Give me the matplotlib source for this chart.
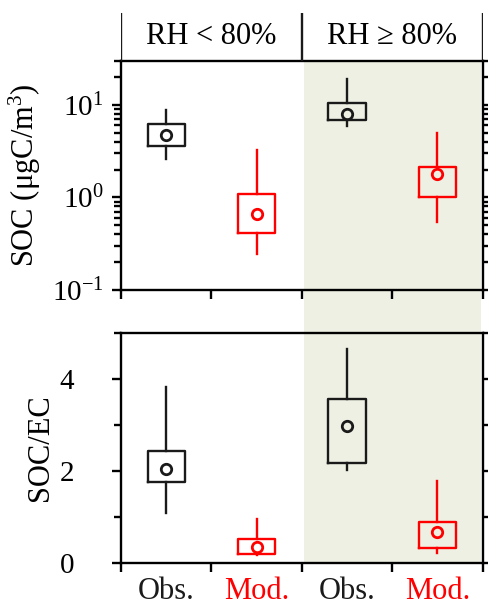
import matplotlib
matplotlib.use("Agg")
import matplotlib.pyplot as plt
import matplotlib.transforms as mtransforms
from matplotlib.patches import Rectangle
from matplotlib.ticker import LogLocator, NullFormatter

plt.rcParams["font.family"] = ["Liberation Serif", "DejaVu Serif"]
plt.rcParams["mathtext.fontset"] = "custom"
plt.rcParams["mathtext.rm"] = "Liberation Serif"
plt.rcParams["mathtext.it"] = "Liberation Serif:italic"

# groups: Obs. / Mod. for RH < 80% and RH >= 80%
groups = ["RH < 80%", "RH \u2265 80%"]
series = ["Obs.", "Mod.", "Obs.", "Mod."]
positions = [0.5, 1.5, 2.5, 3.5]

# SOC (ugC/m3), log axis
soc_whislo = [2.6, 0.245, 5.9, 0.55]
soc_q1 = [3.6, 0.41, 6.9, 1.0]
soc_mean = [4.75, 0.66, 8.0, 1.81]
soc_q3 = [6.25, 1.08, 10.5, 2.15]
soc_whishi = [8.8, 3.3, 19.0, 5.0]

# SOC/EC ratio
ratio_whislo = [1.09, 0.17, 2.03, 0.22]
ratio_q1 = [1.77, 0.20, 2.18, 0.32]
ratio_mean = [2.04, 0.35, 2.99, 0.68]
ratio_q3 = [2.43, 0.53, 3.56, 0.89]
ratio_whishi = [3.82, 0.96, 4.65, 1.79]

BLACK = "#1a1a1a"
RED = "#ff0000"
SHADE = "#edf0e2"
colors = [BLACK, RED, BLACK, RED]
LW = 1.7


def draw_boxes(ax, whislo, q1, mean, q3, whishi):
    for i, pos in enumerate(positions):
        st = dict(whislo=whislo[i], q1=q1[i], med=mean[i], q3=q3[i],
                  whishi=whishi[i], mean=mean[i], fliers=[])
        c = colors[i]
        ax.bxp([st], positions=[pos], widths=0.41, showcaps=False,
               showfliers=False, showmeans=True, patch_artist=False,
               boxprops=dict(color=c, linewidth=LW),
               whiskerprops=dict(color=c, linewidth=LW),
               medianprops=dict(linestyle="none"),
               meanprops=dict(marker="o", markerfacecolor="none",
                              markeredgecolor=c, markersize=7.5,
                              markeredgewidth=2.0))


def style_axis(ax, pad):
    for sp in ax.spines.values():
        sp.set_linewidth(LW)
    ax.set_facecolor("none")
    ax.set_xlim(0, 4)
    ax.set_xticks([0, 1, 2, 3, 4])
    ax.set_xticklabels([])
    ax.tick_params(axis="x", which="major", direction="out", length=6.5,
                   width=LW, top=False)
    ax.tick_params(axis="y", which="major", direction="out", length=6.5,
                   width=LW, left=True, right=True, labelsize=21, pad=pad)
    ax.tick_params(axis="y", which="minor", direction="out", length=5,
                   width=LW, left=True, right=True)


fig = plt.figure(figsize=(4.88, 6.08), dpi=100)
ax_top = fig.add_axes([0.248, 0.523, 0.741, 0.377])
ax_bot = fig.add_axes([0.248, 0.074, 0.741, 0.378])
ax_head = fig.add_axes([0.248, 0.900, 0.741, 0.079])

# top panel: SOC
ax_top.set_yscale("log")
draw_boxes(ax_top, soc_whislo, soc_q1, soc_mean, soc_q3, soc_whishi)
style_axis(ax_top, pad=6)
ax_top.set_ylim(0.1, 30)
ax_top.yaxis.set_major_locator(LogLocator(base=10, numticks=5))
ax_top.yaxis.set_minor_locator(LogLocator(base=10, subs=range(2, 10), numticks=12))
ax_top.yaxis.set_minor_formatter(NullFormatter())
ax_top.set_ylabel("SOC (\u03bcgC/m$^3$)", fontsize=22)
ax_top.yaxis.set_label_coords(-0.216, 0.5)

# bottom panel: SOC/EC
draw_boxes(ax_bot, ratio_whislo, ratio_q1, ratio_mean, ratio_q3, ratio_whishi)
style_axis(ax_bot, pad=27)
ax_bot.set_ylim(0, 5)
ax_bot.set_yticks([0, 2, 4])
ax_bot.set_yticks([1, 3, 5], minor=True)
ax_bot.set_ylabel("SOC/EC", fontsize=22)
ax_bot.yaxis.set_label_coords(-0.183, 0.5)
ax_bot.set_xticks(positions, minor=True)
ax_bot.set_xticklabels(series, minor=True, fontsize=22)
ax_bot.tick_params(axis="x", which="minor", length=0, pad=10)
for lbl, c in zip(ax_bot.get_xticklabels(minor=True), colors):
    lbl.set_color(c)

# header with group names
ax_head.set_xlim(0, 4)
ax_head.set_ylim(0, 1)
ax_head.axis("off")
for xv in [0, 2, 4]:
    ax_head.axvline(xv, color=BLACK, linewidth=LW)
for i, g in enumerate(groups):
    ax_head.text(1 + 2 * i, 0.5, g, ha="center", va="center", fontsize=22)

# shaded background for the RH >= 80% group, spanning both panels
trans = mtransforms.blended_transform_factory(ax_top.transData, fig.transFigure)
fig.patches.append(Rectangle((2.02, 0.074), 1.96, 0.826, transform=trans,
                             facecolor=SHADE, edgecolor="none", zorder=-1))

fig.savefig("out.png", dpi=100)
